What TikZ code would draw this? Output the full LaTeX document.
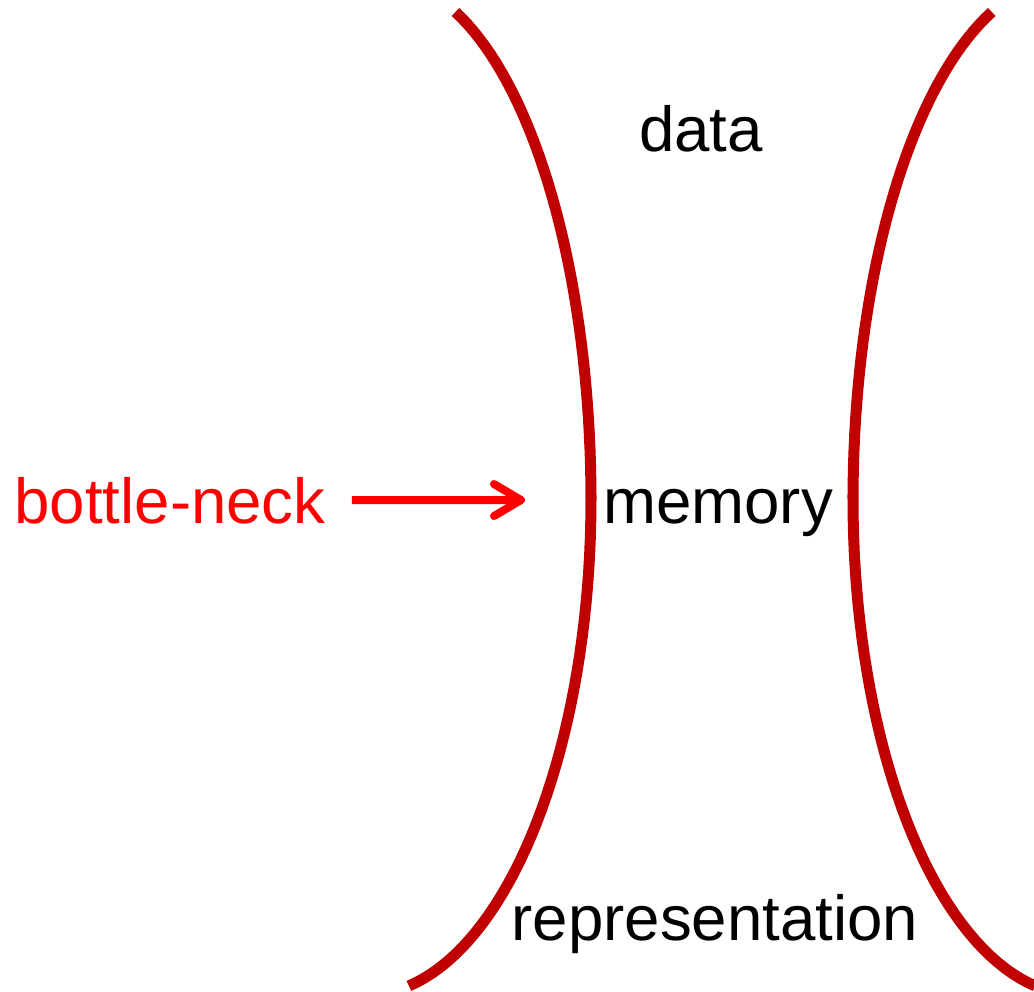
\documentclass[tikz,border=0pt]{standalone}
\usepackage{fontspec}
\setmainfont{Liberation Sans}
\usetikzlibrary{arrows.meta}
\usetikzlibrary{positioning}
\definecolor{wallred}{RGB}{192,0,0}
\definecolor{neckred}{RGB}{255,0,0}

\begin{document}
\begin{tikzpicture}[x = 1pt, y = -1pt,
		wall/.style = {draw = wallred, line width = 11pt},
		lbl/.style = {inner sep = 0, anchor = base, font = \fontsize{63.6}{76}\selectfont},
		flow/.style = {draw = neckred, line width = 8pt, -{Straight Barb[length = 27pt, width = 32pt, round]}}]
		\useasboundingbox (0, 0) rectangle (1034, 992);

		% the two walls of the neck
		\draw [wall] plot [domain = -69.8:0, samples = 40] ({384 + 207*cos(\x)}, {500 + 520*sin(\x)})
			-- plot [domain = 0:79, samples = 40] ({366 + 225*cos(\x)}, {500 + 495*sin(\x)});
		\draw [wall] plot [domain = -69.8:0, samples = 40] ({1065 - 212*cos(\x)}, {500 + 520*sin(\x)})
			-- plot [domain = 0:79, samples = 40] ({1078 - 225*cos(\x)}, {500 + 495*sin(\x)});

		\node [lbl] (data) at (701, 152) {data};
		\node [lbl] (memory) at (718, 523) {memory};
		\node [lbl] (repr) at (715, 940) {representation};
		\node [lbl, text = neckred] (neck) at (170, 523) {bottle-neck};

		\coordinate (tip) at (525, 500);
		\draw [flow, shorten <= 26pt] (neck.east) -- (tip);
	\end{tikzpicture}
\end{document}
